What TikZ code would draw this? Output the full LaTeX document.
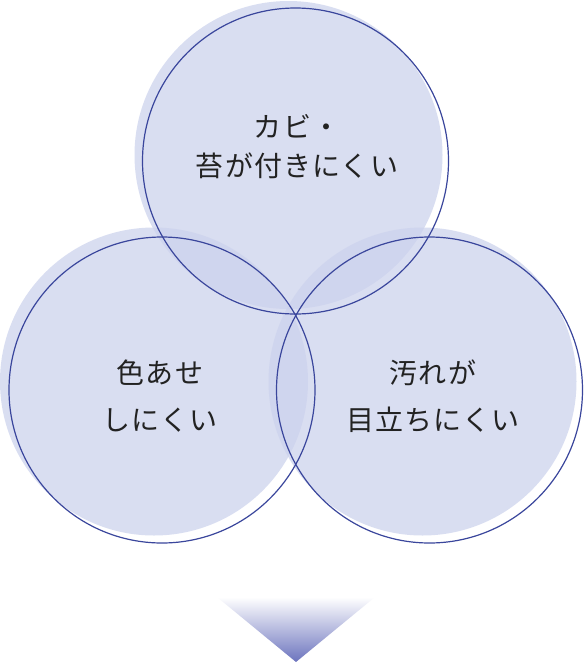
\documentclass[tikz,border=0pt]{standalone}
\usepackage{fontspec}
\setmainfont{Noto Sans CJK JP}[LetterSpace=4]
\definecolor{discfill}{RGB}{204,210,237}
\definecolor{ringline}{RGB}{58,70,156}
\definecolor{txt}{RGB}{34,34,34}
\definecolor{arrowbot}{RGB}{108,116,190}
\tikzset{
  disc/.style={circle, inner sep=0pt, minimum size=308pt, fill=discfill, fill opacity=0.73, draw=none},
  ring/.style={circle, inner sep=0pt, minimum size=306pt, draw=ringline, line width=1.2pt, fill=none},
  lbltight/.style={align=center, text=txt, inner sep=0pt, font=\fontsize{28}{39}\selectfont},
  lblwide/.style={align=center, text=txt, inner sep=0pt, font=\fontsize{28}{47}\selectfont},
}
\begin{document}
\begin{tikzpicture}[x=1pt,y=-1pt]
\useasboundingbox (0,0) rectangle (584,662);
\fill[white] (0,0) rectangle (584,662);
% filled discs
\node[disc] (dt) at (288.5,155) {};
\node[disc] (dl) at (154,381.5) {};
\node[disc] (dr) at (422.5,381.5) {};
% rings
\node[ring] (rt) at (295.5,161) {};
\node[ring] (rl) at (162,390) {};
\node[ring] (rr) at (429.5,390) {};
% labels
\node[lbltight] (lt) at (297,147) {カビ・\\苔が付きにくい};
\node[lblwide] (ll) at (160,396) {色あせ\\しにくい};
\node[lblwide] (lr) at (433,396) {汚れが\\目立ちにくい};
% arrow
\coordinate (a1) at (217,597);
\coordinate (a2) at (375,597);
\coordinate (a3) at (296,662);
\shade[top color=white, bottom color=arrowbot] (a1) -- (a2) -- (a3) -- cycle;
\end{tikzpicture}
\end{document}
